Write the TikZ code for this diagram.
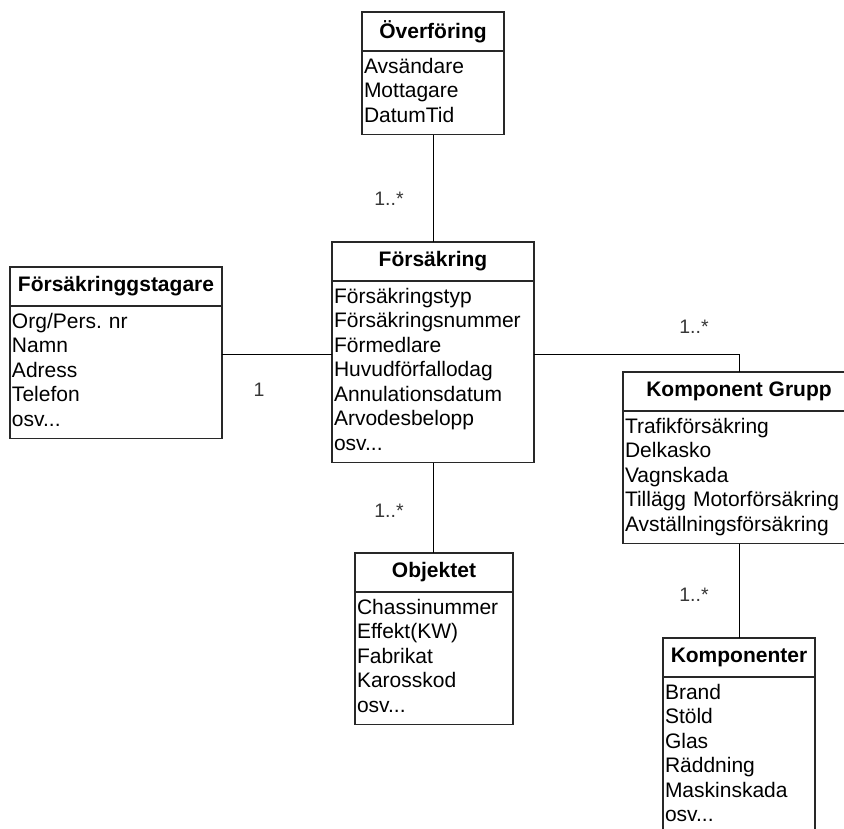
\documentclass[tikz,border=0pt]{standalone}
\usepackage{fontspec}
\setmainfont{Liberation Sans}
\usetikzlibrary{positioning}
\definecolor{boxline}{RGB}{40,40,40}
\definecolor{multgray}{RGB}{55,55,55}
\frenchspacing
% class box: name, north west corner, width, title, attributes
\newcommand{\umlklass}[5]{%
  \node[klasshead, minimum width=#3pt, anchor=north west] (#1) at (#2) {#4};
  \node[klassbody, text width=#3pt-4pt, minimum width=#3pt, anchor=north west] (#1-b) at (#1.south west) {#5};}
\tikzset{
  klasshead/.style={draw=boxline, line width=1.5pt, fill=white, outer sep=0pt, inner sep=0pt,
    minimum height=39pt, font=\fontsize{21}{24.5}\selectfont\bfseries},
  klassbody/.style={draw=boxline, line width=1.5pt, fill=white, outer sep=0pt, align=left,
    inner xsep=2pt, inner ysep=5pt, font=\fontsize{21}{24.5}\selectfont,
    execute at begin node=\strut, execute at end node=\strut},
  assoc/.style={black, line width=1pt},
  mult/.style={font=\fontsize{19.5}{22}\selectfont, text=multgray},
}
\begin{document}
\begin{tikzpicture}[x=1pt, y=-1pt]
\useasboundingbox[fill=white] (0,0) rectangle (844,828);
\umlklass{overf}{362,12}{142}{Överföring}{Avsändare\\Mottagare\\DatumTid}
\umlklass{tag}{10,267}{212}{Försäkringgstagare}{Org/Pers. nr\\Namn\\Adress\\Telefon\\osv...}
\umlklass{fors}{332,242}{202}{Försäkring}{Försäkringstyp\\Försäkringsnummer\\Förmedlare\\Huvudförfallodag\\Annulationsdatum\\Arvodesbelopp\\osv...}
\umlklass{grp}{623,372}{232}{Komponent Grupp}{Trafikförsäkring\\Delkasko\\Vagnskada\\Tillägg Motorförsäkring\\Avställningsförsäkring}
\umlklass{obj}{355,553}{158}{Objektet}{Chassinummer\\Effekt(KW)\\Fabrikat\\Karosskod\\osv...}
\umlklass{komp}{663,638}{152}{Komponenter}{Brand\\Stöld\\Glas\\Räddning\\Maskinskada\\osv...}
% associations
\coordinate (lnk) at (0,354);
\draw[assoc] (overf-b.south) -- (fors.north);
\draw[assoc] (tag-b.east |- lnk) -- (fors-b.west |- lnk);
\draw[assoc] (fors-b.east |- lnk) -| (grp.north);
\draw[assoc] (fors-b.south) -- (fors-b.south |- obj.north);
\draw[assoc] (grp-b.south) -- (komp.north);
% multiplicities
\node[mult] (m-overf) at (389,199) {1..*};
\node[mult] (m-tag) at (259,390) {1};
\node[mult] (m-grp) at (694,327) {1..*};
\node[mult] (m-obj) at (389,511) {1..*};
\node[mult] (m-komp) at (694,595) {1..*};
\end{tikzpicture}
\end{document}
